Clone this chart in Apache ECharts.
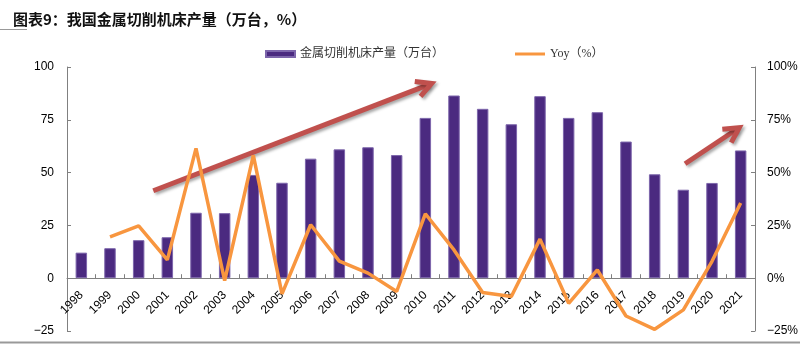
<!DOCTYPE html>
<html>
<head>
<meta charset="utf-8">
<script src="https://cdn.jsdelivr.net/npm/echarts@6/dist/echarts.min.js"></script>
<style>
  html, body { margin: 0; padding: 0; background: #fff; }
  #chart { width: 800px; height: 344px; }
</style>
</head>
<body>
<div id="chart"></div>
<script>
// 我国金属切削机床产量（万台）及同比
const years = ['1998','1999','2000','2001','2002','2003','2004','2005','2006','2007','2008','2009',
               '2010','2011','2012','2013','2014','2015','2016','2017','2018','2019','2020','2021'];
const output = [12.1, 14.2, 18.0, 19.4, 31.0, 30.8, 48.9, 45.2, 56.6, 61.0, 62.0, 58.3,
                75.9, 86.5, 80.2, 72.9, 86.2, 75.9, 78.6, 64.7, 49.2, 41.9, 45.1, 60.5];
const yoy = [null, 19.6, 24.8, 8.7, 61.5, -1.1, 58.2, -7.4, 25.3, 8.1, 2.4, -6.3,
             30.5, 13.4, -6.8, -8.7, 18.5, -11.9, 3.9, -17.9, -24.2, -15.0, 8.0, 35.6];
const leftTicks = { min: -25, max: 100, step: 25 };
const rightTicks = { min: -25, max: 100, step: 25 };

// Trend arrows: [category position, left-axis value] for tail and head
const trendArrows = [
  { from: [2.51, 41.4], to: [12.22, 92.2] },
  { from: [21.06, 54.2], to: [22.95, 71.3] }
];

const W = 800, H = 344;
const gridBox = { left: 67, right: 45, top: 67, bottom: 13 };
// The category axis sits on the zero line of the left value axis
const plotH = H - gridBox.top - gridBox.bottom;
const zeroOffset = -plotH * (0 - leftTicks.min) / (leftTicks.max - leftTicks.min);

const axisGray = '#808080';
const fmtNum = v => (v < 0 ? '\u2212' + Math.abs(v) : String(v));

const chart = echarts.init(document.getElementById('chart'));
chart.setOption({
  animation: false,
  backgroundColor: '#fff',
  title: {
    text: '图表9：我国金属切削机床产量（万台，%）',
    left: 8, top: 7,
    textStyle: { fontFamily: 'Noto Sans CJK SC', fontSize: 15, fontWeight: 'bold', color: '#111' }
  },
  legend: [
    {
      data: [{ name: '金属切削机床产量（万台）', icon: 'rect' }],
      left: 260, top: 43, itemWidth: 29, itemHeight: 6, itemGap: 4,
      textStyle: { fontFamily: 'Liberation Serif, Noto Sans CJK SC', fontSize: 12, color: '#333' }
    },
    {
      data: [{ name: 'Yoy（%）', icon: 'rect' }],
      left: 510, top: 43, itemWidth: 30, itemHeight: 3, itemGap: 4,
      textStyle: { fontFamily: 'Liberation Serif, Noto Sans CJK SC', fontSize: 12, color: '#333' }
    }
  ],
  grid: Object.assign({ containLabel: false, outerBoundsMode: 'none' }, gridBox),
  xAxis: {
    type: 'category',
    data: years,
    position: 'bottom',
    offset: zeroOffset,
    axisLine: { onZero: false, lineStyle: { color: axisGray } },
    axisTick: { show: true, inside: true, length: 4, alignWithLabel: false, lineStyle: { color: axisGray } },
    axisLabel: {
      interval: 0, rotate: 45, margin: 15,
      fontFamily: 'Liberation Sans, Arial', fontSize: 12, color: '#000'
    }
  },
  yAxis: [
    {
      type: 'value', min: leftTicks.min, max: leftTicks.max, interval: leftTicks.step,
      splitLine: { show: false },
      axisLine: { show: true, lineStyle: { color: axisGray } },
      axisTick: { show: true, inside: true, length: 4, lineStyle: { color: axisGray } },
      axisLabel: { margin: 13, formatter: fmtNum, fontFamily: 'Liberation Sans, Arial', fontSize: 12, color: '#000' }
    },
    {
      type: 'value', min: rightTicks.min, max: rightTicks.max, interval: rightTicks.step,
      position: 'right',
      splitLine: { show: false },
      axisLine: { show: true, lineStyle: { color: axisGray } },
      axisTick: { show: true, inside: true, length: 4, lineStyle: { color: axisGray } },
      axisLabel: { margin: 12, formatter: v => fmtNum(v) + '%', fontFamily: 'Liberation Sans, Arial', fontSize: 12, color: '#000' }
    }
  ],
  series: [
    {
      name: '金属切削机床产量（万台）',
      type: 'bar',
      yAxisIndex: 0,
      data: output,
      barWidth: '40%',
      itemStyle: { color: '#4b2a80', borderColor: '#7d66ab', borderWidth: 1 }
    },
    {
      name: 'Yoy（%）',
      type: 'line',
      yAxisIndex: 1,
      data: yoy,
      showSymbol: false,
      symbol: 'none',
      lineStyle: { color: '#f8963f', width: 3.5 },
      itemStyle: { color: '#f8963f' },
      z: 3
    }
  ]
});

// Convert a fractional category position and a left-axis value to pixels
function toPixel(pos, value) {
  const x0 = chart.convertToPixel({ xAxisIndex: 0 }, 0);
  const x1 = chart.convertToPixel({ xAxisIndex: 0 }, 1);
  const y = chart.convertToPixel({ yAxisIndex: 0 }, value);
  return [x0 + pos * (x1 - x0), y];
}

const arrowColor = '#c0504d';
const shadow = { shadowBlur: 3, shadowOffsetX: 2, shadowOffsetY: 2, shadowColor: 'rgba(0,0,0,0.35)' };
const arrowGraphics = [];
trendArrows.forEach(a => {
  const p0 = toPixel(a.from[0], a.from[1]);
  const p1 = toPixel(a.to[0], a.to[1]);
  const dx = p1[0] - p0[0], dy = p1[1] - p0[1];
  const len = Math.hypot(dx, dy);
  const ux = dx / len, uy = dy / len;
  const nx = -uy, ny = ux;
  const hl = 15, hw = 8;
  const back = [p1[0] - ux * hl, p1[1] - uy * hl];
  arrowGraphics.push({
    type: 'group',
    children: [
      {
        type: 'line',
        shape: { x1: p0[0], y1: p0[1], x2: p1[0] - ux * 3, y2: p1[1] - uy * 3 },
        style: Object.assign({ stroke: arrowColor, lineWidth: 5, lineCap: 'butt' }, shadow)
      },
      {
        type: 'polyline',
        shape: { points: [[back[0] + nx * hw, back[1] + ny * hw], p1, [back[0] - nx * hw, back[1] - ny * hw]] },
        style: Object.assign({ stroke: arrowColor, lineWidth: 5, fill: null, lineJoin: 'miter', lineCap: 'butt' }, shadow)
      }
    ]
  });
});

// Title underline stub and bottom rule
arrowGraphics.push({
  type: 'line', shape: { x1: 0, y1: 29.5, x2: 27, y2: 29.5 },
  style: { stroke: '#999', lineWidth: 1 }
});
arrowGraphics.push({
  type: 'line', shape: { x1: 0, y1: 342.5, x2: 800, y2: 342.5 },
  style: { stroke: '#999', lineWidth: 2 }
});

chart.setOption({ graphic: arrowGraphics });
</script>
</body>
</html>
